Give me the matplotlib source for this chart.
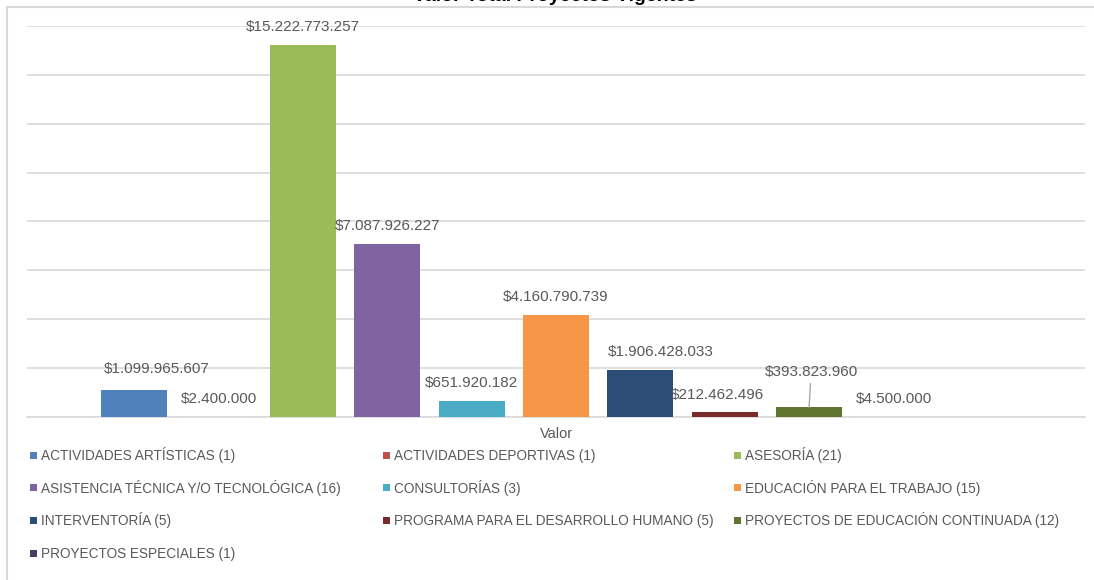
import numpy as np
import matplotlib
matplotlib.use("Agg")
import matplotlib.pyplot as plt
from matplotlib.patches import Rectangle

# Datos del grafico
categorias = [
    "ACTIVIDADES ARTÍSTICAS (1)",
    "ACTIVIDADES DEPORTIVAS (1)",
    "ASESORÍA (21)",
    "ASISTENCIA TÉCNICA Y/O TECNOLÓGICA (16)",
    "CONSULTORÍAS (3)",
    "EDUCACIÓN PARA EL TRABAJO (15)",
    "INTERVENTORÍA (5)",
    "PROGRAMA PARA EL DESARROLLO HUMANO (5)",
    "PROYECTOS DE EDUCACIÓN CONTINUADA (12)",
    "PROYECTOS ESPECIALES (1)",
]
valores = [1099965607, 2400000, 15222773257, 7087926227, 651920182,
           4160790739, 1906428033, 212462496, 393823960, 4500000]
eje_x = ["Valor"]
titulo = "Valor Total Proyectos Vigentes"

colores = ["#4F81BD", "#C0504D", "#9BBB59", "#8064A2", "#4BACC6",
           "#F79646", "#2C4D75", "#772C2A", "#5F7530", "#4D3B62"]

# desplazamiento de etiquetas (pixeles) respecto al tope de cada barra
ajustes = {0: (23, 21), 6: (20, 18), 7: (-7, 17), 8: (2, 35)}

GRIS = "#595959"
LINEA = "#D9D9D9"
W, H = 1094, 580


def formato(v):
    return "$" + f"{v:,}".replace(",", ".")


fig = plt.figure(figsize=(10.94, 5.8), dpi=100)
ax = fig.add_axes([27 / W, (580 - 417) / H, (1085 - 27) / W, (417 - 26) / H])

x = np.arange(len(valores))
barras = ax.bar(x, valores, width=0.78, color=colores, zorder=3)

ax.set_xlim(-1.27, 11.27)
ax.set_ylim(0, 16e9)
ax.set_yticks(np.arange(0, 16e9 + 1, 2e9))
ax.set_yticklabels([])
ax.tick_params(axis="y", length=0)
ax.grid(axis="y", color=LINEA, lw=1.2, zorder=0)
ax.set_xticks([5])
ax.set_xticklabels(eje_x, color=GRIS, fontsize=10.5, family="Liberation Sans")
ax.tick_params(axis="x", length=0, pad=7)
for lado in ["top", "right", "left"]:
    ax.spines[lado].set_visible(False)
ax.spines["bottom"].set_color(LINEA)
ax.spines["bottom"].set_linewidth(1.2)

# etiquetas de datos
for i, (b, v) in enumerate(zip(barras, valores)):
    dx, dy = ajustes.get(i, (0, 18))
    flecha = None
    if i == 8:
        flecha = dict(arrowstyle="-", color="#A6A6A6", lw=1, shrinkA=1, shrinkB=0)
    ax.annotate(formato(v), xy=(b.get_x() + b.get_width() / 2, v),
                xytext=(dx, dy), textcoords="offset pixels",
                ha="center", va="center", fontsize=11, color=GRIS,
                family="Liberation Sans", arrowprops=flecha, zorder=4)

# leyenda en tres columnas, llenada por filas como en Excel
x_col = [30, 383, 734]
y_fila0, paso = 455, 32.7
lado = 7
for k, (nombre, c) in enumerate(zip(categorias, colores)):
    fila, col = divmod(k, 3)
    xp = x_col[col]
    yp = y_fila0 + fila * paso
    fig.patches.append(Rectangle((xp / W, 1 - (yp + lado / 2) / H), lado / W, lado / H,
                                 transform=fig.transFigure, facecolor=c,
                                 edgecolor="none"))
    fig.text((xp + lado + 4) / W, 1 - (yp + 5) / H, nombre, ha="left", va="baseline",
             fontsize=9.8, color=GRIS, family="Liberation Sans")

# titulo (recortado en el borde superior, como en el original)
fig.text(0.507, 1 - 0.9 / H, titulo, ha="center", va="baseline",
         fontsize=14, fontweight="bold", family="Liberation Sans", color="black")

# marco exterior del grafico
fig.patches.append(Rectangle((6.5 / W, -0.05), 1.2, 1.05 - 6.5 / H,
                             transform=fig.transFigure, fill=False,
                             edgecolor=LINEA, lw=1.5))

fig.savefig("out.png", dpi=100)
